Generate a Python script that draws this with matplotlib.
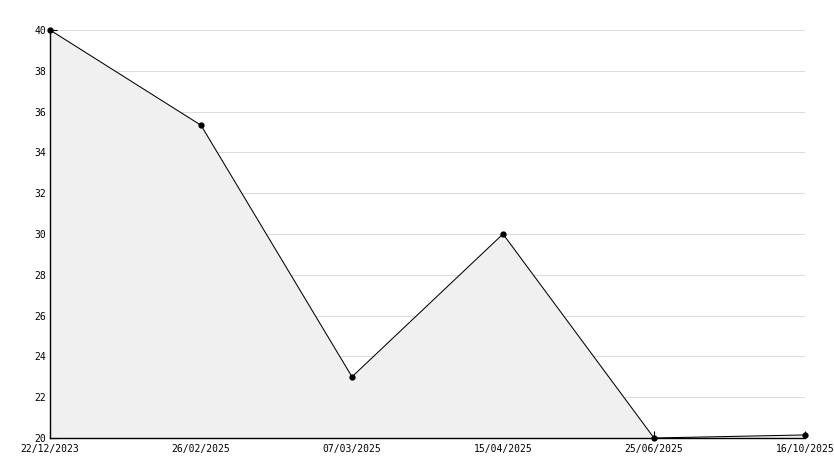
import matplotlib
matplotlib.use("Agg")
import matplotlib.pyplot as plt
from matplotlib.ticker import MultipleLocator
from matplotlib.transforms import ScaledTranslation

dates = ["22/12/2023", "26/02/2025", "07/03/2025", "15/04/2025", "25/06/2025", "16/10/2025"]
values = [40.0, 35.33, 23.0, 30.0, 20.0, 20.15]

fig = plt.figure(figsize=(8.34, 4.68), dpi=100)
W, H = 834, 468
ax = fig.add_axes([50 / W, 30 / H, 755 / W, 408 / H])

x = list(range(len(dates)))
ax.fill_between(x, values, 20, color="#f0f0f0", zorder=2, lw=0)
ax.plot(x, values, color="black", lw=0.75, marker="o", ms=3.5, zorder=3, clip_on=False)

ax.set_xlim(0, len(dates) - 1)
ax.set_ylim(20, 40)
ax.yaxis.set_major_locator(MultipleLocator(2))
ax.yaxis.set_minor_locator(MultipleLocator(1))
ax.set_xticks(x)
ax.set_xticklabels(dates)

ax.grid(axis="y", which="major", color="#dcdcdc", lw=0.75, zorder=1)
ax.set_axisbelow(True)

for s in ["top", "right"]:
    ax.spines[s].set_visible(False)
for s in ["left", "bottom"]:
    ax.spines[s].set_linewidth(1.0)
    ax.spines[s].set_zorder(4)

ax.tick_params(axis="both", which="both", direction="in", color="black",
               labelsize=7, width=0.8)
ax.tick_params(axis="y", which="major", length=5, pad=3)
ax.tick_params(axis="y", which="minor", length=3)
ax.tick_params(axis="x", which="major", length=5, pad=4)
for lab in ax.get_xticklabels() + ax.get_yticklabels():
    lab.set_fontfamily("DejaVu Sans Mono")

# lift the bottom y label a little, like the reference
fig.canvas.draw()
ylabs = ax.get_yticklabels()
ylabs[0].set_transform(ylabs[0].get_transform() + ScaledTranslation(0, 2 / 100, fig.dpi_scale_trans))

fig.savefig("out.png", dpi=100)
